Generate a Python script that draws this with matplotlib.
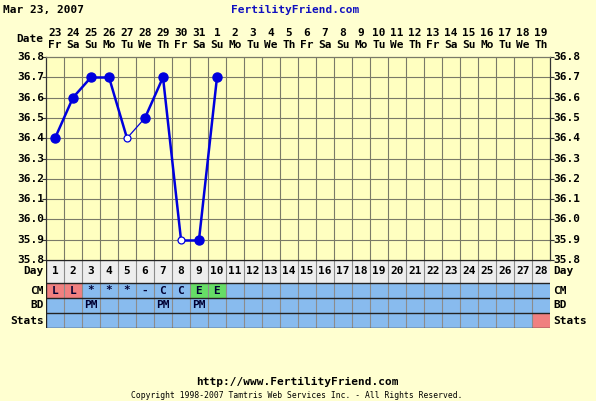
import matplotlib
matplotlib.use("Agg")
import matplotlib.pyplot as plt
from matplotlib.patches import Rectangle

# chart data
cycle_days = list(range(1, 29))
dates = [23, 24, 25, 26, 27, 28, 29, 30, 31, 1, 2, 3, 4, 5, 6, 7, 8, 9, 10,
         11, 12, 13, 14, 15, 16, 17, 18, 19]
weekdays = ["Fr", "Sa", "Su", "Mo", "Tu", "We", "Th"] * 4
temp_days = [1, 2, 3, 4, 5, 6, 7, 8, 9, 10]
temps = [36.4, 36.6, 36.7, 36.7, 36.4, 36.5, 36.7, 35.9, 35.9, 36.7]
open_days = [5, 8]
cm_values = ["L", "L", "*", "*", "*", "-", "C", "C", "E", "E"]
bd_days = [3, 7, 9]
stats_days = [28]
y_ticks = [35.8, 35.9, 36.0, 36.1, 36.2, 36.3, 36.4, 36.5, 36.6, 36.7, 36.8]

W, H = 596, 401
bg = "#FFFFD0"
plot_bg = "#FFFFC0"
grid_c = "#7A7A68"
blue_cell = "#88BBEE"
pink = "#F08080"
green = "#66DD66"
line_c = "#0000DD"
font = dict(family="DejaVu Sans Mono", fontweight="bold", fontsize=8)

fig = plt.figure(figsize=(W / 100, H / 100), dpi=100)
fig.patch.set_facecolor(bg)

def fx(px):
    return px / W

def fy(py):
    return 1 - py / H

x0, x1 = 46, 550
ytop, ybot = 57, 260

# temperature chart
ax = fig.add_axes([fx(x0), fy(ybot), fx(x1 - x0), (ybot - ytop) / H])
ax.set_facecolor(plot_bg)
ax.set_xlim(0.5, 28.5)
ax.set_ylim(35.8, 36.8)
for d in range(1, 28):
    ax.axvline(d + 0.5, color=grid_c, lw=0.8, zorder=1)
for t in y_ticks[1:-1]:
    ax.axhline(t, color=grid_c, lw=0.8, zorder=1)
ax.set_xticks([])
ax.set_yticks(y_ticks)
ax.set_yticklabels([])
ax.tick_params(axis="y", length=3, width=0.8, color="#333333", left=True, right=True)
for s in ax.spines.values():
    s.set_color("#333333")
    s.set_linewidth(0.9)
ax.spines["top"].set_color(grid_c)

# line: thin segment after the open point on day 5
for i in range(len(temp_days) - 1):
    lw = 0.9 if temp_days[i] == 5 else 1.8
    ax.plot(temp_days[i:i + 2], temps[i:i + 2], color=line_c, lw=lw, zorder=3)
for d, t in zip(temp_days, temps):
    if d in open_days:
        ax.plot(d, t, "o", ms=5, mfc="white", mec=line_c, mew=0.9, zorder=4)
    else:
        ax.plot(d, t, "o", ms=6.5, color=line_c, zorder=4)

for t in y_ticks:
    yy = fy(ytop + (36.8 - t) / 1.0 * (ybot - ytop))
    fig.text(fx(44), yy, f"{t:.1f}", ha="right", va="center", **font)
    fig.text(fx(553), yy, f"{t:.1f}", ha="left", va="center", **font)

# header
col_w = (x1 - x0) / 28
for i, (dt, wd) in enumerate(zip(dates, weekdays)):
    cx = fx(x0 + col_w * (i + 0.5))
    fig.text(cx, fy(33), str(dt), ha="center", va="center", **font)
    fig.text(cx, fy(45), wd, ha="center", va="center", **font)
fig.text(fx(43), fy(39), "Date", ha="right", va="center", **font)
fig.text(fx(3), fy(10), "Mar 23, 2007", ha="left", va="center", **font)
fig.text(fx(295), fy(10), "FertilityFriend.com", ha="center", va="center",
         color="#1010C0", **font)

# table rows
rows = [("Day", 260, 283), ("CM", 283, 298), ("BD", 298, 313), ("Stats", 313, 328)]
tab = fig.add_axes([fx(x0), fy(328), fx(x1 - x0), (328 - 260) / H])
tab.set_xlim(0.5, 28.5)
tab.set_ylim(328, 260)
tab.axis("off")
for name, top, bot in rows:
    for d in cycle_days:
        if name == "Day":
            fc = "#EEEEEE"
        elif name == "CM" and d <= len(cm_values) and cm_values[d - 1] == "L":
            fc = pink
        elif name == "CM" and d <= len(cm_values) and cm_values[d - 1] == "E":
            fc = green
        elif name == "Stats" and d in stats_days:
            fc = pink
        else:
            fc = blue_cell
        tab.add_patch(Rectangle((d - 0.5, top), 1, bot - top, facecolor=fc,
                                edgecolor="none", zorder=1))
    ymid = fy((top + bot) / 2)
    fig.text(fx(44), ymid, name, ha="right", va="center", **font)
    fig.text(fx(553), ymid, name, ha="left", va="center", **font)
for d in range(1, 28):
    tab.plot([d + 0.5, d + 0.5], [260, 328], color="#8C8C8C", lw=0.8, zorder=2)
for yb in [260, 283, 298, 313, 328]:
    tab.plot([0.5, 28.5], [yb, yb], color="#222222", lw=1.0, zorder=3)
tab.plot([0.5, 0.5], [260, 328], color="#222222", lw=1.0, zorder=3)

for d in cycle_days:
    tab.text(d, 271.5, str(d), ha="center", va="center", **font)
for d, v in enumerate(cm_values, start=1):
    tab.text(d, 290.5, v, ha="center", va="center", color="#000033", **font)
for d in bd_days:
    tab.text(d, 305.5, "PM", ha="center", va="center", color="#000033", **font)

# footer
fig.text(fx(297), fy(382), "http://www.FertilityFriend.com", ha="center",
         va="center", **font)
fig.text(fx(297), fy(396),
         "Copyright 1998-2007 Tamtris Web Services Inc. - All Rights Reserved.",
         ha="center", va="center", family="DejaVu Sans Mono", fontsize=5.8)

fig.savefig("out.png", dpi=100, facecolor=bg)
